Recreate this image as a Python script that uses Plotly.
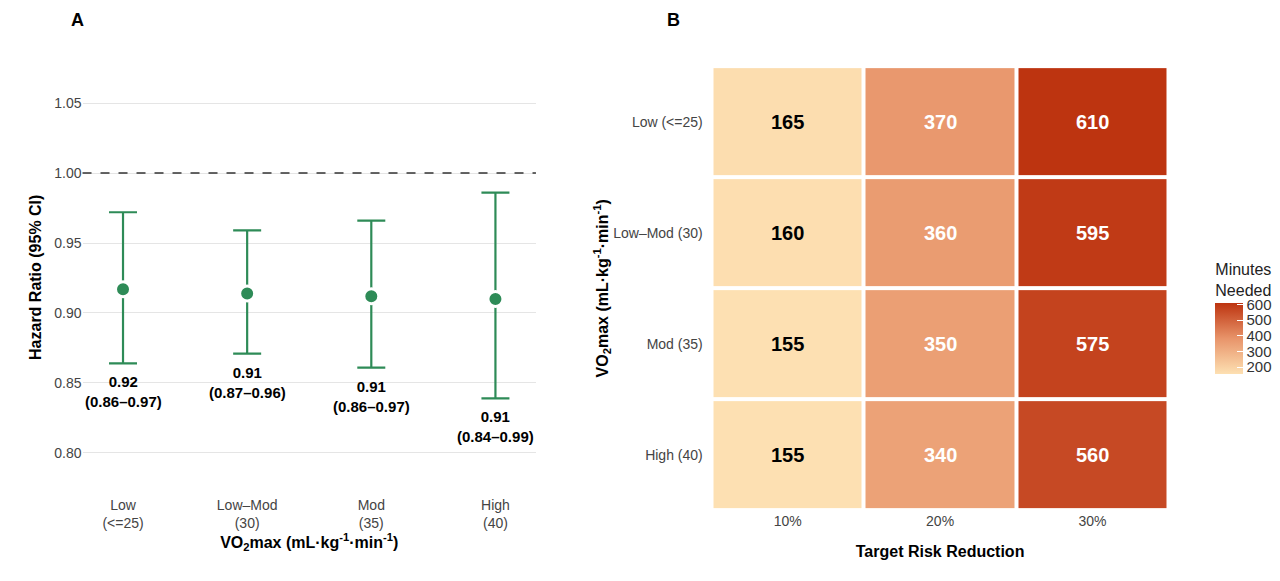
import plotly.graph_objects as go

groups = ["Low<br>(<=25)", "Low\u2013Mod<br>(30)", "Mod<br>(35)", "High<br>(40)"]
hr = [0.917, 0.914, 0.912, 0.910]
lo = [0.864, 0.871, 0.861, 0.839]
hi = [0.972, 0.959, 0.966, 0.986]
lab_hr = ["0.92", "0.91", "0.91", "0.91"]
lab_ci = ["(0.86\u20130.97)", "(0.87\u20130.96)", "(0.86\u20130.97)", "(0.84\u20130.99)"]

reductions = ["10%", "20%", "30%"]
levels = ["High (40)", "Mod (35)", "Low\u2013Mod (30)", "Low (<=25)"]
minutes = [[155, 340, 560], [155, 350, 575], [160, 360, 595], [165, 370, 610]]

F = "Liberation Sans, Arial, sans-serif"
fig = go.Figure()
green = "#2E8B57"
fig.add_trace(go.Scatter(
    x=groups, y=hr, mode="markers",
    marker=dict(size=15, color=green, line=dict(color="white", width=3)),
    error_y=dict(type="data", symmetric=False,
                 array=[h - m for h, m in zip(hi, hr)],
                 arrayminus=[m - l for m, l in zip(hr, lo)],
                 color=green, thickness=2.2, width=14),
    xaxis="x", yaxis="y", showlegend=False))
for g, l, a, b in zip(groups, lo, lab_hr, lab_ci):
    fig.add_annotation(x=g, y=l, xref="x", yref="y", yshift=-8, yanchor="top",
                       text=f"<b>{a}<br>{b}</b>", showarrow=False,
                       font=dict(size=15, color="black", family=F))
fig.add_shape(type="line", xref="x domain", yref="y", x0=0, x1=1, y0=1.0, y1=1.0,
              line=dict(color="#333", width=1.5, dash="dash"))

text_colors = [["black" if v < 250 else "white" for v in row] for row in minutes]
fig.add_trace(go.Heatmap(
    x=reductions, y=levels, z=minutes, xaxis="x2", yaxis="y2",
    colorscale=[[0, "#FDE0B2"], [0.5, "#E8946A"], [1, "#BD3410"]],
    zmin=155, zmax=610, xgap=4, ygap=4, hoverinfo="z",
    colorbar=dict(title=dict(text="Minutes<br>Needed", font=dict(size=16, color="#222", family=F)),
                  x=0.948, xanchor="left", y=0.468, yanchor="middle",
                  lenmode="pixels", len=134, thickness=28,
                  tickvals=[200, 300, 400, 500, 600], outlinewidth=0,
                  ticks="inside", tickcolor="white", ticklen=6,
                  tickfont=dict(size=15, color="#333", family=F)),
    showscale=True))
for i, lv in enumerate(levels):
    for j, r in enumerate(reductions):
        fig.add_annotation(x=r, y=lv, xref="x2", yref="y2", showarrow=False,
                           text=f"<b>{minutes[i][j]}</b>",
                           font=dict(size=20, color=text_colors[i][j], family=F))

vo2 = "VO<sub>2</sub>max (mL·kg<sup>-1</sup>·min<sup>-1</sup>)"
fig.update_layout(
    width=1280, height=581, margin=dict(l=0, r=0, t=0, b=0),
    plot_bgcolor="white", paper_bgcolor="white", font=dict(family=F),
    xaxis=dict(domain=[0.059, 0.418], showgrid=False, zeroline=False,
               tickfont=dict(size=14, color="#444"), ticks="",
               title=dict(text=f"<b>{vo2}</b>", font=dict(size=16, color="black"), standoff=2)),
    yaxis=dict(domain=[0.162, 0.911], range=[0.770, 1.081], tickvals=[0.80, 0.85, 0.90, 0.95, 1.00, 1.05],
               tickformat=".2f", gridcolor="#E5E5E5", gridwidth=1.2, zeroline=False,
               tickfont=dict(size=14, color="#444"),
               title=dict(text="<b>Hazard Ratio (95% CI)</b>", font=dict(size=16, color="black"), standoff=8)),
    xaxis2=dict(domain=[0.557, 0.919], anchor="y2", showgrid=False, zeroline=False,
                tickfont=dict(size=14, color="#444"),
                title=dict(text="<b>Target Risk Reduction</b>", font=dict(size=16, color="black"), standoff=18)),
    yaxis2=dict(domain=[0.135, 0.900], anchor="x2", showgrid=False, zeroline=False,
                tickfont=dict(size=14, color="#444"), ticksuffix="  ",
                title=dict(text=f"<b>{vo2}</b>", font=dict(size=16, color="black"), standoff=0)),
)
fig.add_annotation(x=0.048, y=1.0, xref="paper", yref="paper", text="<b>A</b>",
                   showarrow=False, xanchor="left", yanchor="top", font=dict(size=18, color="black"))
fig.add_annotation(x=0.52, y=1.0, xref="paper", yref="paper", text="<b>B</b>",
                   showarrow=False, xanchor="left", yanchor="top", font=dict(size=18, color="black"))
fig.write_html("out.html")
